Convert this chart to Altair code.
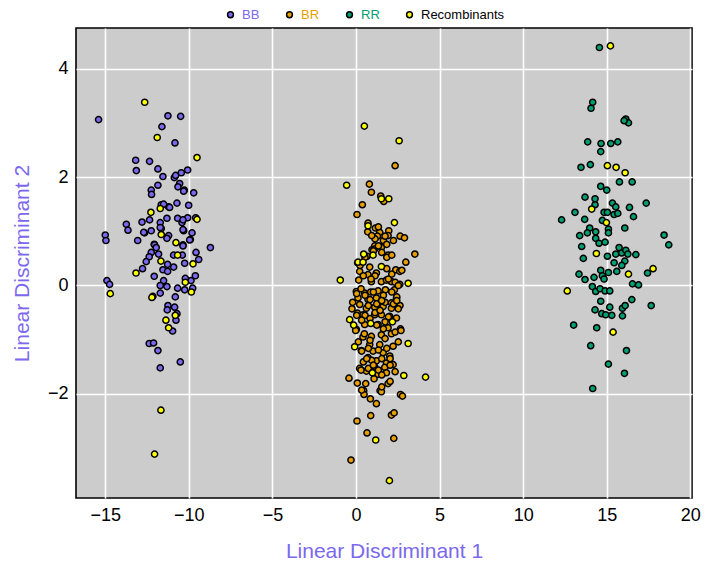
import altair as alt
import pandas as pd

# ---- data (LD1, LD2) ----
bb_x = [-15.40, -11.25, -10.49, -11.61, -10.83, -13.18, -13.14, -12.35, -11.85, -11.55,
        -10.87, -10.79, -10.45, -10.07, -10.55, -10.65, -11.85, -12.25, -12.23, -10.27,
        -9.71, -10.71, -10.01, -11.65, -11.21, -11.31, -10.67, -10.07, -13.74, -13.64,
        -12.80, -12.35, -11.71, -11.65, -12.65, -12.25, -11.21, -10.41, -10.31, -9.81,
        -15.00, -14.96, -13.06, -12.07, -9.91, -10.35, -8.71, -12.25, -11.81, -10.91,
        -10.39, -9.57, -12.37, -12.55, -9.41, -11.27, -10.25, -12.77, -10.91, -11.55,
        -11.27, -12.07, -9.61, -10.21, -14.90, -14.74, -11.51, -11.71, -11.31, -9.87,
        -9.77, -10.67, -10.25, -11.71, -12.15, -10.81, -11.25, -10.85, -10.71, -11.29,
        -10.77, -10.97, -12.37, -12.11, -11.85, -10.51, -11.71,
        -11.51, -11.15, -10.35, -9.59, -11.71, -12.70, -11.31, -10.35, -9.95,
        -10.35, -12.05, -11.95, -10.31]
bb_y = [3.06, 3.13, 3.12, 2.93, 2.63, 2.31, 2.12, 2.29, 2.15, 2.01,
        1.99, 2.03, 2.08, 2.13, 1.88, 1.82, 1.85, 1.76, 1.68, 1.76,
        1.71, 1.52, 1.48, 1.49, 1.45, 1.24, 1.24, 1.25, 1.13, 1.02,
        1.17, 1.21, 1.16, 1.05, 0.97, 1.01, 0.92, 1.16, 1.01, 0.97,
        0.93, 0.83, 0.83, 0.76, 0.85, 0.75, 0.70, 0.61, 0.58, 0.56,
        0.56, 0.61, 0.53, 0.44, 0.48, 0.39, 0.41, 0.31, 0.34, 0.29,
        0.26, 0.17, 0.18, 0.13, 0.09, 0.02, 0.09, 0.00, -0.02, 0.09,
        -0.05, -0.05, -0.08, -0.14, -0.20, -0.21, -0.37, -0.40, -0.52, -0.45,
        -0.64, -0.84, -1.07, -1.06, -1.20, -1.41, -1.52,
        1.50, 1.44, 1.21, 1.25, 1.07, 0.98, 0.87, 1.03, 0.84,
        0.73, 0.75, 0.70, 1.74]

br_x = [2.34, 0.80, 0.92, 1.48, 1.66, 0.38, 0.06, 0.72, 1.16, 1.42,
        1.96, 1.28, 1.92, 2.64, 2.90, 1.72, 1.12, 1.52, 0.96, 3.52,
        0.66, 1.92,
        0.22, 0.82, 0.72, 1.22, 2.38, 2.62, 2.98, 0.16, 0.92, 1.52,
        1.82, 2.12, 2.62, 0.02, 0.52, 0.88, 1.32, 1.76, 2.30, 0.12,
        0.72, 1.22, 1.52, 2.12, 2.42, -0.24, 0.22, 0.62, 1.12, 1.62,
        2.12, 0.08, 0.42, 1.12, 1.52, 2.02, 2.42, 0.02, 0.52, 1.32,
        1.92, 2.66, 0.42, 0.92, 1.52, 2.12, 0.82, 1.42, 2.22, 0.32,
        1.02, 1.62, 2.02, 0.72, 1.22, 1.82, 2.22, 0.22, 0.62, 1.12,
        1.72, 1.32, 1.82, -0.42, 0.08, 0.58, 1.08, 1.92, 1.44, 0.46,
        2.66,
        0.48, 1.52, 2.78, 0.86, 1.22, 0.06, 0.88, 2.12, 2.28, 0.66,
        2.26, -0.30,
        1.14, 1.64, 1.10, 1.84, 0.10, 1.54, 1.84, 2.14, 2.74, 1.14,
        1.94, 2.34, 2.53, 0.04, 0.54, 1.04, 1.64, 2.14, 2.44, -0.20,
        0.74, 1.24, 1.74, 2.24, 2.63, 0.04, 0.54, 1.14, 1.94, 2.53,
        -0.02, 0.50, 1.24, 1.64, 2.34, 2.69, 0.34, 0.74, 1.34, 1.84,
        0.44, 0.94, 1.54, 2.04, 0.30, 0.74, 1.34, 2.34,
        1.34, 1.74, 0.70, 1.04, 0.54, 0.24,
        0.94, 2.24, 1.34, 0.44, 0.90, 1.84, 2.14, 0.30, 0.84, 1.54,
        2.44, 0.34, 0.84, 1.74, 1.44, 0.14, 0.84, 1.74, 2.53, 0.64,
        1.04, 2.04, 1.54, 0.34, 1.54, 2.04]
br_y = [2.21, 1.87, 1.72, 1.65, 1.55, 1.49, 1.31, 1.15, 1.06, 0.98,
        1.01, 0.91, 0.92, 0.91, 0.88, 0.77, 0.73, 0.70, 0.66, 0.58,
        0.54, 0.56,
        0.26, 0.34, 0.20, 0.23, 0.29, 0.26, 0.43, 0.10, 0.07, 0.07,
        0.10, 0.07, 0.02, -0.11, -0.14, -0.12, -0.10, -0.08, -0.08, -0.23,
        -0.26, -0.23, -0.29, -0.32, -0.23, -0.43, -0.35, -0.42, -0.40, -0.39,
        -0.42, -0.51, -0.54, -0.54, -0.54, -0.57, -0.60, -0.81, -0.72, -0.72,
        -0.78, -0.80, -0.95, -0.94, -0.91, -0.89, -1.09, -1.09, -1.12, -1.20,
        -1.21, -1.24, -1.30, -1.33, -1.39, -1.43, -1.46, -1.53, -1.58, -1.50,
        -1.51, -1.64, -1.61, -1.71, -1.80, -1.81, -1.72, -1.81, -1.94, -1.94,
        -2.01,
        -2.01, -1.96, -2.04, -2.09, -2.18, -2.50, -2.40, -2.39, -2.35, -2.72,
        -2.82, -3.22,
        0.86, 0.83, 0.67, 0.76, 0.42, 0.61, 0.52, 0.56, 0.28, 0.18,
        0.12, 0.06, 0.00, -0.15, -0.18, -0.12, -0.18, -0.12, -0.21, -0.31,
        -0.37, -0.34, -0.31, -0.34, -0.37, -0.55, -0.55, -0.50, -0.58, -0.43,
        -0.83, -0.89, -0.73, -0.80, -0.86, -0.83, -1.21, -1.16, -1.19, -1.16,
        -1.41, -1.38, -1.35, -1.35, -1.56, -1.53, -1.56, -1.59,
        1.08, 0.91, 0.99, 0.64, 0.52, 0.37,
        0.92, 0.83, 0.73, 0.18, 0.12, 0.31, 0.21, -0.06, -0.26, -0.28,
        -0.28, -0.64, -0.61, -0.67, -0.46, -1.04, -1.01, -0.98, -1.04, -1.35,
        -1.47, -1.47, -1.65, -1.93, -1.87, -1.77]

rr_x = [14.56, 14.16, 14.06, 16.14, 16.30, 16.04, 13.86, 14.66, 15.24, 15.66,
        14.64, 13.46, 14.02, 15.76, 16.52, 14.64, 15.00, 13.70, 14.30, 14.30,
        15.34, 15.54, 16.36, 17.36, 13.10, 12.30, 13.68, 14.84, 15.04, 15.44,
        15.66, 16.60, 14.74, 13.98, 15.10, 15.10, 16.08, 13.38, 13.84, 14.34,
        14.34, 14.54, 14.90, 13.50, 18.43, 18.71, 15.04, 13.60, 15.74, 15.54,
        15.90, 16.14, 16.26, 16.74, 16.08, 15.44, 15.90, 15.60, 17.44, 13.34,
        13.70, 14.24, 14.64, 14.74, 14.84, 15.10, 14.14, 14.34, 14.60, 14.90,
        15.18, 16.54, 16.90, 14.64, 14.30, 14.70, 14.94, 15.18, 15.30, 15.94,
        16.10, 16.50, 15.94, 17.66, 13.02, 14.40, 14.04, 16.18, 15.10, 16.06,
        14.16]
rr_y = [4.39, 3.38, 3.27, 3.07, 3.00, 3.04, 2.65, 2.62, 2.62, 2.65,
        2.47, 2.18, 2.23, 1.91, 1.91, 1.83, 1.76, 1.63, 1.60, 1.49,
        1.52, 1.45, 1.44, 1.52, 1.35, 1.21, 1.22, 1.35, 1.35, 1.31,
        1.33, 1.27, 1.20, 1.06, 1.04, 0.97, 1.06, 0.92, 0.97, 0.99,
        0.87, 0.78, 0.80, 0.72, 0.93, 0.75, 0.54, 0.50, 0.70, 0.58,
        0.60, 0.65, 0.58, 0.57, 0.45, 0.42, 0.37, 0.26, 0.23, 0.21,
        0.11, 0.15, 0.28, 0.18, 0.12, 0.24, -0.02, -0.11, -0.06, -0.10,
        -0.10, 0.03, 0.01, -0.29, -0.45, -0.52, -0.54, -0.40, -0.55, -0.42,
        -0.37, -0.26, -0.56, -0.37, -0.73, -0.78, -1.11, -1.20, -1.45, -1.62,
        -1.90]

rec_x = [-12.64, -11.89, -9.51, -11.71, -12.27, -9.51, -11.65, -10.77, -10.67, -11.67,
         -9.75, -13.16, -14.70, -10.21, -9.85, -12.21, -10.81, -11.37, -11.21, -11.67,
         -12.05,
         0.50, 2.58, -0.56, 1.52, 1.96, 0.72, 2.30, 0.46, 1.02, 0.12,
         0.42, 1.52, -0.94, 3.12, -0.38, -0.14, 0.88, 2.18, 3.12, -0.08,
         0.98, 2.86, 4.16, 1.18, 2.00,
         15.22, 15.04, 15.56, 16.10, 14.10, 14.98, 14.38, 16.30, 17.77, 12.64,
         15.38]
rec_y = [3.38, 2.73, 2.36, 1.42, 1.35, 1.22, 0.94, 0.79, 0.56, 0.45,
         0.40, 0.23, -0.15, 0.06, -0.12, -0.22, -0.55, -0.64, -0.78, -2.30,
         -3.11,
         2.94, 2.67, 1.85, 1.60, 1.60, 1.10, 1.16, 0.58, 0.56, 0.43,
         0.43, 0.35, 0.10, 0.04, -0.63, -0.73, -0.70, -0.67, -1.07, -1.13,
         -1.61, -1.66, -1.69, -2.85, -3.60,
         4.42, 2.21, 2.18, 2.08, 1.41, 1.16, 0.59, 0.21, 0.31, -0.10,
         -0.86]

groups = ["BB", "BR", "RR", "Recombinants"]
colors = ["#7B68EE", "#E69F00", "#009E73", "#FFFF00"]
x_ticks = [-15, -10, -5, 0, 5, 10, 15, 20]
y_ticks = [-2, 0, 2, 4]

frames = []
for g, xs, ys in [("BB", bb_x, bb_y), ("BR", br_x, br_y), ("RR", rr_x, rr_y),
                  ("Recombinants", rec_x, rec_y)]:
    frames.append(pd.DataFrame({"LD1": xs, "LD2": ys, "group": g}))
df = pd.concat(frames, ignore_index=True)
df["order"] = range(len(df))

FONT = "Liberation Sans"
TITLE_COLOR = "#7B68EE"
label_color_expr = ("datum.value == 'BB' ? '#7B68EE' : datum.value == 'BR' ? '#E69F00' : "
                    "datum.value == 'RR' ? '#009E73' : 'black'")

chart = alt.Chart(df).mark_circle(
    size=38, stroke="black", strokeWidth=1.5, opacity=1
).encode(
    x=alt.X("LD1:Q", scale=alt.Scale(domain=[-16.75, 20.1], nice=False, zero=False),
            axis=alt.Axis(values=x_ticks, title="Linear Discriminant 1", grid=True,
                          gridColor="white", gridWidth=1.6, domain=False, ticks=False,
                          labelFontSize=18, labelColor="black", labelPadding=8,
                          labelFont=FONT, titleFont=FONT, titleFontSize=21,
                          titleFontWeight="normal", titleColor=TITLE_COLOR,
                          titleX=308, titleY=53, titleBaseline="middle")),
    y=alt.Y("LD2:Q", scale=alt.Scale(domain=[-3.92, 4.75], nice=False, zero=False),
            axis=alt.Axis(values=y_ticks, title="Linear Discriminant 2", grid=True,
                          gridColor="white", gridWidth=1.6, domain=False, ticks=False,
                          labelFontSize=18, labelColor="black", labelPadding=8,
                          labelFont=FONT, titleFont=FONT, titleFontSize=21,
                          titleFontWeight="normal", titleColor=TITLE_COLOR,
                          titleX=-54, titleY=235, titleBaseline="middle")),
    fill=alt.Fill("group:N", scale=alt.Scale(domain=groups, range=colors),
                  legend=alt.Legend(title=None, orient="none", direction="horizontal",
                                    legendX=148, legendY=-20, labelFont=FONT,
                                    labelFontSize=13, labelColor={"expr": label_color_expr},
                                    symbolType="circle", symbolSize=34,
                                    symbolStrokeColor="black", symbolStrokeWidth=1.5,
                                    labelOffset=5, columnPadding=23, padding=0)),
    order=alt.Order("order:Q"),
).properties(
    width=616, height=470,
    background="white",
    autosize=alt.AutoSizeParams(type="none"),
    padding={"left": 68, "top": 20, "right": 10, "bottom": 65},
).configure_view(
    fill="#CCCCCC", stroke="black", strokeWidth=1.6
)

chart.save("out.html", embed_options={"renderer": "svg", "actions": False})
